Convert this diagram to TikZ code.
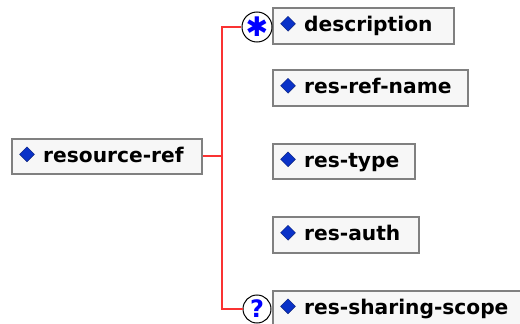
\documentclass[tikz,border=0pt]{standalone}
\usepackage{fontspec}
\setmainfont{DejaVu Sans}
\usetikzlibrary{shapes.geometric}
\definecolor{gemblue}{RGB}{10,50,200}
\definecolor{wirered}{RGB}{250,50,50}
\tikzset{
  x=1pt,y=1pt,
  elbox/.style={draw=black!50,line width=1.6pt,fill=black!3,minimum height=35pt,anchor=north west,inner sep=0pt},
  eltext/.style={anchor=base west,inner sep=0pt,font=\bfseries\fontsize{20.2}{24}\selectfont,text=black},
  gem/.style={diamond,fill=gemblue,draw=gemblue!60!black,line width=.4pt,minimum width=15pt,minimum height=15pt,inner sep=0pt},
  wire/.style={draw=wirered,line width=1.5pt},
  occ/.style={circle,draw=black,line width=1pt,fill=white,minimum size=28pt,inner sep=0pt,text=blue}
}
\begin{document}
\begin{tikzpicture}
\useasboundingbox (0,0) rectangle (520,-324);
\node[elbox,minimum width=190pt] (root) at (11,-138) {};
\node[elbox,minimum width=181pt,minimum height=36pt] (d) at (272,-7) {};
\node[elbox,minimum width=195pt,minimum height=36pt] (n) at (272,-69) {};
\node[elbox,minimum width=142pt] (t) at (272,-143) {};
\node[elbox,minimum width=146pt,minimum height=36pt] (a) at (272,-216) {};
\node[elbox,minimum width=249pt] (s) at (272,-290) {};
\coordinate (junc) at (222,-156);
\node[occ,font=\fontsize{27}{27}\selectfont] (o1) at (257,-27) {\char"2731};
\node[occ,font=\fontsize{24}{24}\selectfont\bfseries] (o2) at (257,-309) {?};
\draw[wire] (root.east |- junc) -- (junc);
\draw[wire] (junc) |- (o1.west);
\draw[wire] (junc) |- (o2.west);
\foreach \b/\lab in {root/resource-ref,d/description,n/res-ref-name,t/res-type,a/res-auth,s/res-sharing-scope}{
  \node[gem] (g\b) at ([xshift=16pt,yshift=2pt]\b.west) {};
  \node[eltext] (l\b) at ([xshift=32pt,yshift=-6pt]\b.west) {\lab};
}
\end{tikzpicture}
\end{document}
